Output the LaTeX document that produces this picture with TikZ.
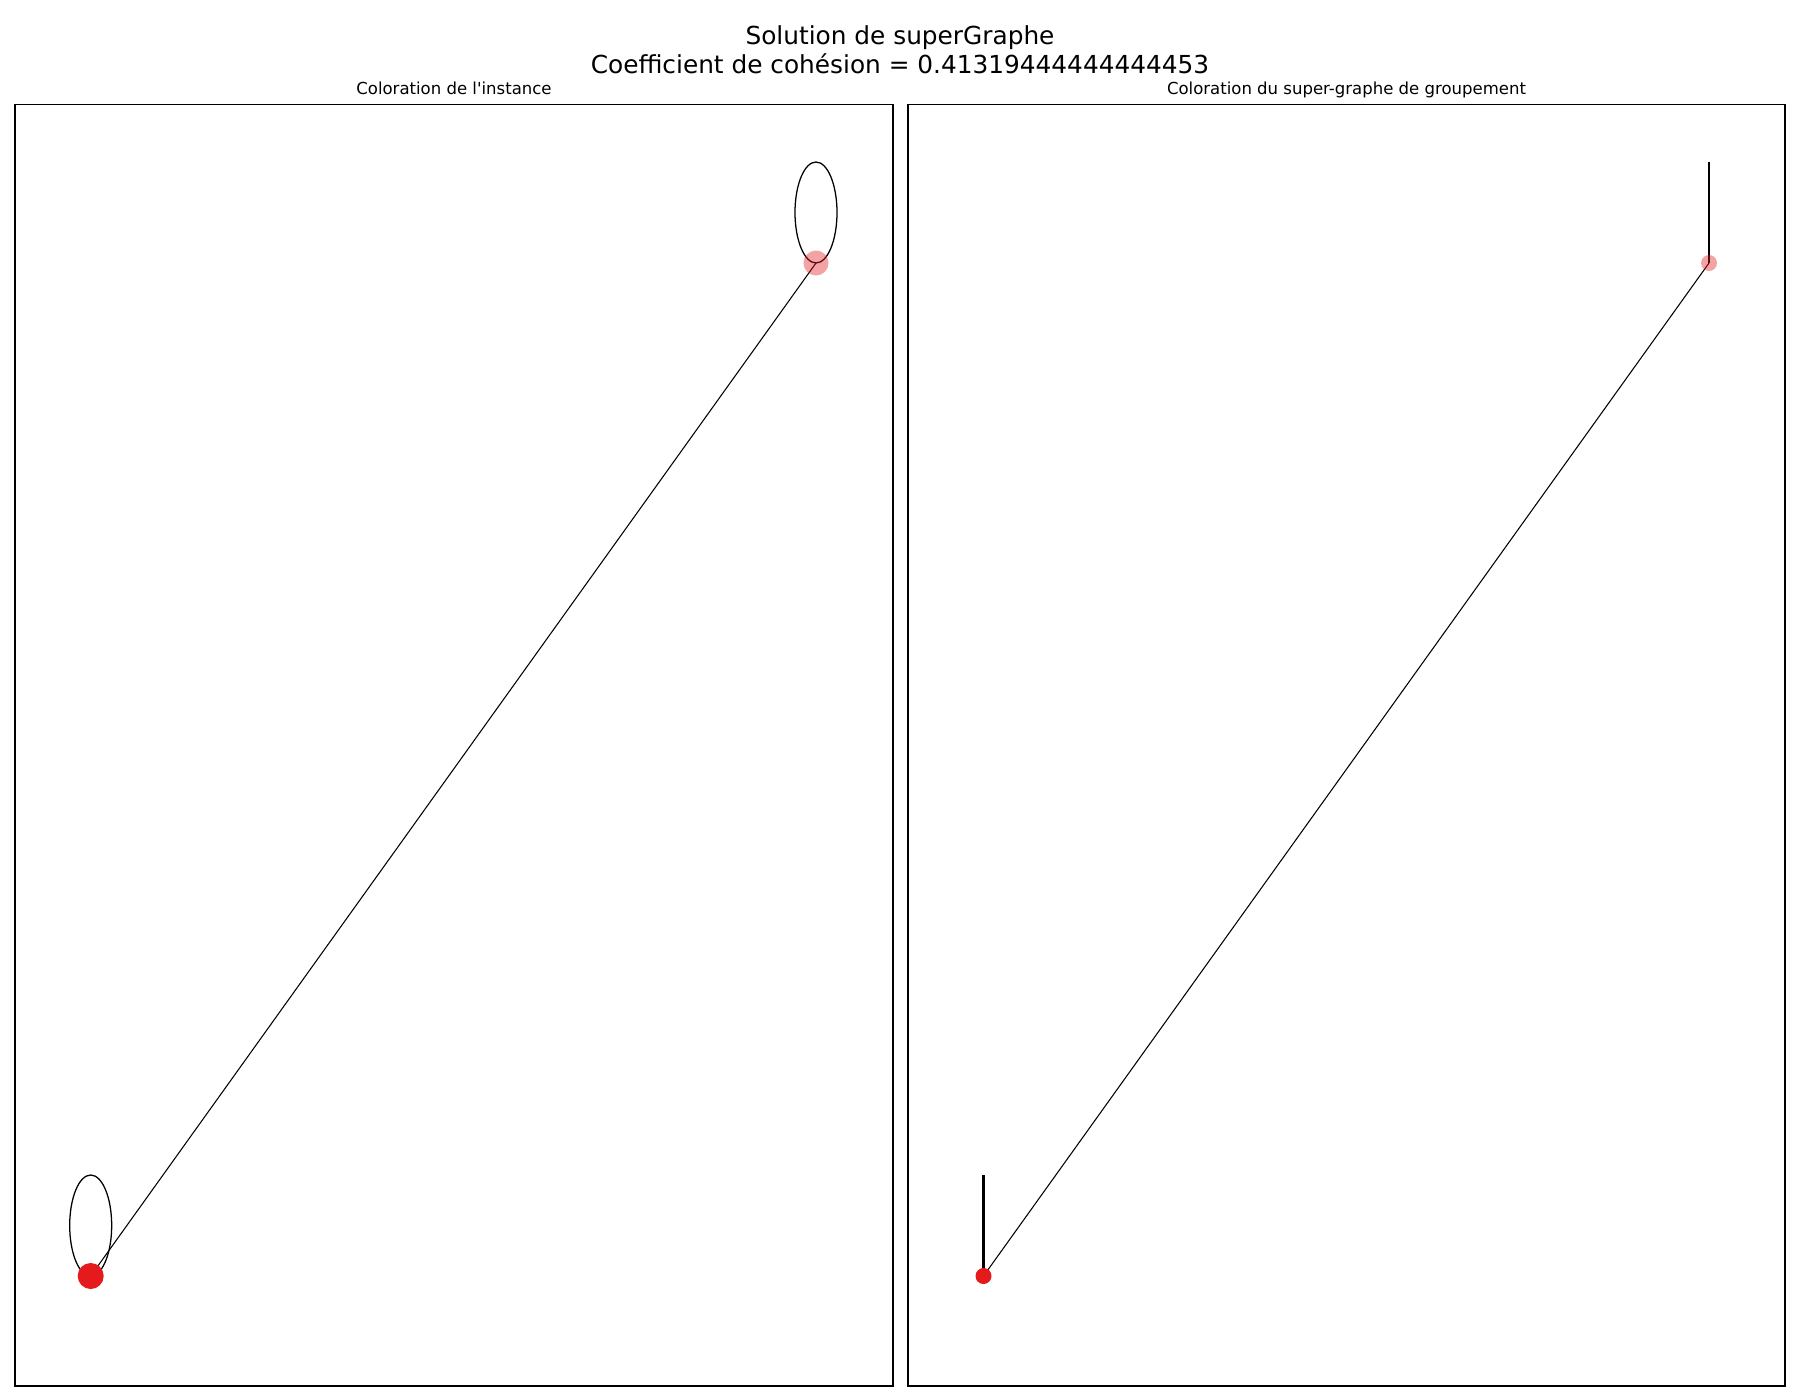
\documentclass[tikz,border=0pt]{standalone}
\usepackage{fontspec}
\setmainfont{DejaVu Sans}
\usepackage{tikz}
\usetikzlibrary{calc,positioning}
\definecolor{rouge}{HTML}{E41A1C}

\begin{document}
\begin{tikzpicture}[x=0.01cm,y=-0.01cm,
  cadre/.style={draw=black,line width=0.3pt},
  arete/.style={draw=black,line width=0.3pt},
  boucle/.style={draw=black,line width=0.36pt},
  tige/.style={draw=black,line width=0.6pt},
  sommet/.style={circle,fill=rouge,inner sep=0pt,minimum size=#1},
  pale/.style={fill opacity=0.4},
  grandtitre/.style={font=\fontsize{7.05}{8.2}\selectfont,anchor=base},
  soustitre/.style={font=\fontsize{4.7}{5.6}\selectfont,anchor=base}]
\useasboundingbox (0,0) rectangle (1800,1400);

\node[grandtitre] (titre) at (900,45) {Solution de superGraphe};
\node[grandtitre] (coeff) at (900,74) {Coefficient de cohésion = 0.41319444444444453};
\node[soustitre] (tg) at (454,95) {Coloration de l\textquotesingle instance};
\node[soustitre] (td) at (1346.5,95) {Coloration du super-graphe de groupement};

\draw[cadre] (15,104.5) rectangle (893,1386);
\draw[cadre] (908,104.5) rectangle (1785,1386);

% instance
\coordinate (a) at (90.7,1276);
\coordinate (b) at (816,263);
\draw[arete] (a) -- (b);
\draw[boucle] (a) ++(0,-50.5) ellipse (21 and 50.5);
\draw[boucle] (b) ++(0,-50.5) ellipse (21 and 50.5);
\node[sommet=0.26cm] (na) at (a) {};
\node[sommet=0.25cm,pale] (nb) at (b) {};

% super-graphe
\coordinate (c) at (983.5,1276);
\coordinate (d) at (1709,263);
\coordinate (ch) at (983.5,1174.5);
\coordinate (dh) at (1709,162);
\draw[arete] (c) -- (d);
\draw[tige] (c) -- (ch);
\draw[tige] (d) -- (dh);
\node[sommet=0.16cm] (nc) at (c) {};
\node[sommet=0.16cm,pale] (nd) at (d) {};
\end{tikzpicture}
\end{document}
